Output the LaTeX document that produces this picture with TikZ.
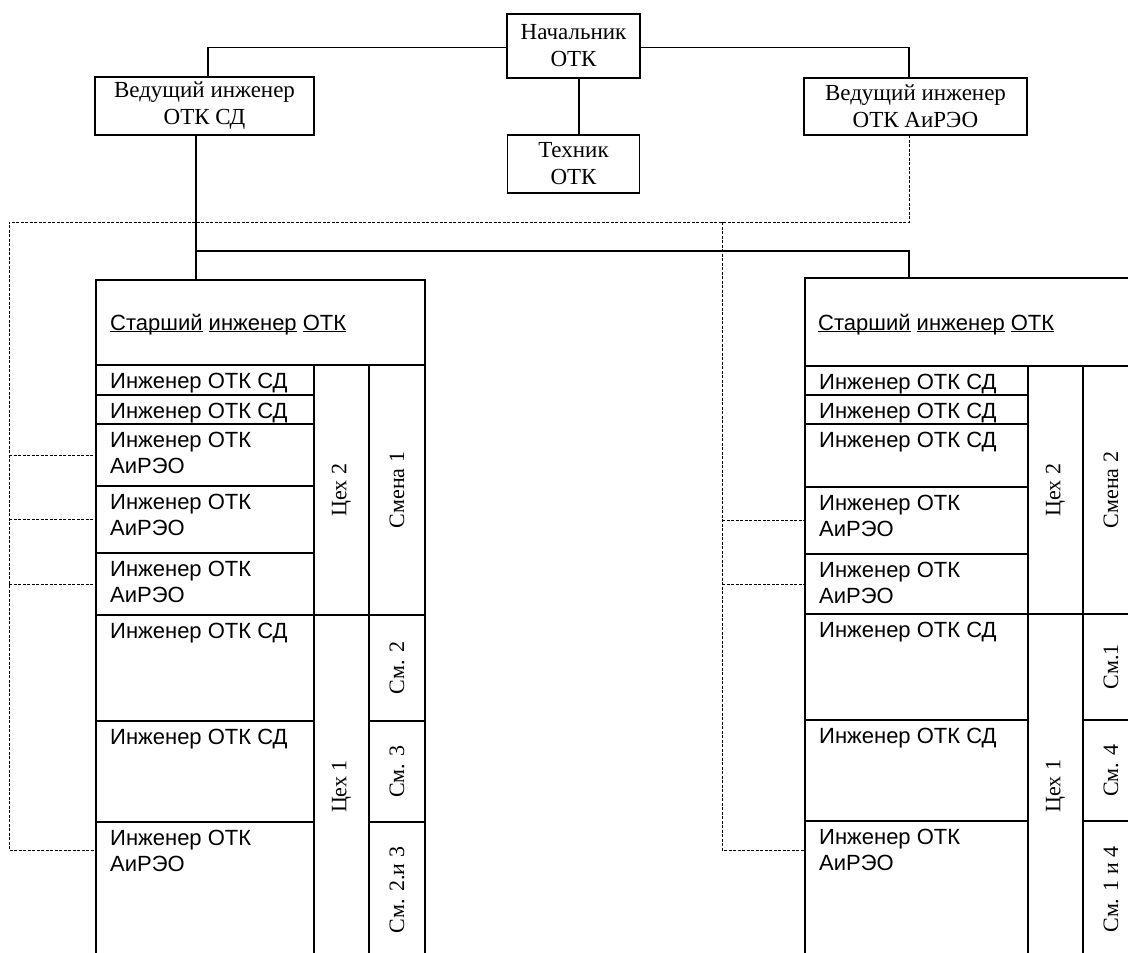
\documentclass[tikz,border=0pt]{standalone}
\usepackage{fontspec}
\setmainfont{Liberation Serif}
\newfontfamily\cellfont{Liberation Sans}
\newcommand\ulw[1]{\underline{\smash{#1}}}
\tikzset{
  topbox/.style={draw, line width=1.4pt, inner sep=0pt, outer sep=0pt, align=center,
    font=\fontsize{23}{27}\selectfont},
  cellframe/.style={draw, line width=1.3pt, inner sep=0pt, outer sep=0pt},
  ctext/.style={anchor=base west, inner sep=0pt, align=left,
    font=\cellfont\fontsize{22}{26}\selectfont},
  vtext/.style={rotate=90, inner sep=0pt, font=\fontsize{22}{26}\selectfont},
  conn/.style={line width=1.2pt},
  dl/.style={line width=1pt, dash pattern=on 3pt off 1.5pt},
}
\newcommand\cellbox[5]{\node[cellframe, minimum width={(#4-#2)*1pt}, minimum height={(#5-#3)*1pt}] (#1) at ({(#2+#4)/2},{(#3+#5)/2}) {};}
% one-line cell text: baseline 23pt below the cell top
\newcommand\celltext[2]{\node[ctext] (#1t) at ([xshift=14pt,yshift=-23pt]#1.north west) {#2};}
% two-line cell text: the base anchor is the last line, 26pt below the first
\newcommand\celltexttwo[3]{\node[ctext] (#1t) at ([xshift=14pt,yshift=-49pt]#1.north west) {#2\\#3};}
\newcommand\vlabel[2]{\node[vtext] (#1t) at (#1) {#2};}
\begin{document}
\begin{tikzpicture}[x=1pt,y=-1pt]
\useasboundingbox (0,0) rectangle (1128,953);
\clip (0,0) rectangle (1128,953);
\fill[white] (0,0) rectangle (1128,953);

% top boxes
\node[topbox, minimum width=133pt, minimum height=64pt] (nach) at (573.5,46) {Начальник\\ОТК};
\node[topbox, minimum width=132pt, minimum height=58pt] (tech) at (573.5,164) {Техник\\ОТК};
\node[topbox, minimum width=219pt, minimum height=58pt] (vsd) at (204.5,106) {Ведущий инженер\\ОТК СД};
\node[topbox, minimum width=223pt, minimum height=57pt] (vair) at (915.5,106.5) {Ведущий инженер\\ОТК АиРЭО};

% left block
\cellbox{LH}{96}{280}{425}{365}
\cellbox{L1}{96}{365}{314}{395}
\cellbox{L2}{96}{395}{314}{424}
\cellbox{L3}{96}{424}{314}{486}
\cellbox{L4}{96}{486}{314}{553}
\cellbox{L5}{96}{553}{314}{615}
\cellbox{L6}{96}{615}{314}{721}
\cellbox{L7}{96}{721}{314}{822}
\cellbox{L8}{96}{822}{314}{958}
\cellbox{LC2}{314}{365}{369}{615}
\cellbox{LC1}{314}{615}{369}{958}
\cellbox{LS1}{369}{365}{425}{615}
\cellbox{LS2}{369}{615}{425}{721}
\cellbox{LS3}{369}{721}{425}{822}
\cellbox{LS4}{369}{822}{425}{958}

\node[ctext] (LHt) at (110,330) {\ulw{Старший} \ulw{инженер} \ulw{ОТК}};
\celltext{L1}{Инженер ОТК СД}
\celltext{L2}{Инженер ОТК СД}
\celltexttwo{L3}{Инженер ОТК}{АиРЭО}
\celltexttwo{L4}{Инженер ОТК}{АиРЭО}
\celltexttwo{L5}{Инженер ОТК}{АиРЭО}
\celltext{L6}{Инженер ОТК СД}
\celltext{L7}{Инженер ОТК СД}
\celltexttwo{L8}{Инженер ОТК}{АиРЭО}
\vlabel{LC2}{Цех 2}
\vlabel{LC1}{Цех 1}
\vlabel{LS1}{Смена 1}
\vlabel{LS2}{См. 2}
\vlabel{LS3}{См. 3}
\vlabel{LS4}{См. 2.и 3}

% right block
\cellbox{RH}{805}{278}{1139}{366}
\cellbox{R1}{805}{366}{1028}{395}
\cellbox{R2}{805}{395}{1028}{424}
\cellbox{R3}{805}{424}{1028}{487}
\cellbox{R4}{805}{487}{1028}{554}
\cellbox{R5}{805}{554}{1028}{614}
\cellbox{R6}{805}{614}{1028}{720}
\cellbox{R7}{805}{720}{1028}{821}
\cellbox{R8}{805}{821}{1028}{958}
\cellbox{RC2}{1028}{366}{1083}{614}
\cellbox{RC1}{1028}{614}{1083}{958}
\cellbox{RS1}{1083}{366}{1139}{614}
\cellbox{RS2}{1083}{614}{1139}{720}
\cellbox{RS3}{1083}{720}{1139}{821}
\cellbox{RS4}{1083}{821}{1139}{958}

\node[ctext] (RHt) at (818,330) {\ulw{Старший} \ulw{инженер} \ulw{ОТК}};
\celltext{R1}{Инженер ОТК СД}
\celltext{R2}{Инженер ОТК СД}
\celltext{R3}{Инженер ОТК СД}
\celltexttwo{R4}{Инженер ОТК}{АиРЭО}
\celltexttwo{R5}{Инженер ОТК}{АиРЭО}
\celltext{R6}{Инженер ОТК СД}
\celltext{R7}{Инженер ОТК СД}
\celltexttwo{R8}{Инженер ОТК}{АиРЭО}
\vlabel{RC2}{Цех 2}
\vlabel{RC1}{Цех 1}
\vlabel{RS1}{Смена 2}
\vlabel{RS2}{См.1}
\vlabel{RS3}{См. 4}
\vlabel{RS4}{См. 1 и 4}

% solid connectors
\draw[conn] ([yshift=-1.5pt]nach.west) -| ([xshift=3.5pt]vsd.north);
\draw[conn] ([yshift=-1.5pt]nach.east) -| ([xshift=-6.5pt]vair.north);
\draw[conn] ([xshift=5.5pt]nach.south) -- ([xshift=5.5pt]tech.north);
\coordinate (sL) at (196,251);
\coordinate (sR) at (909,251);
\draw[conn] (vsd.south -| sL) -- (LH.north -| sL);
\draw[conn] (sL) -- (sR) -- (sR |- RH.north);

% dashed connectors
\coordinate (dL) at (9,222);
\coordinate (dR) at (722,222);
\draw[dl] ([xshift=-6.5pt]vair.south) |- (dL) |- ([yshift=-28pt]L8.north west);
\draw[dl] (L3.west -| dL) -- (L3.west);
\draw[dl] (L4.west -| dL) -- (L4.west);
\draw[dl] (L5.west -| dL) -- (L5.west);
\draw[dl] (dR) |- ([yshift=-29pt]R8.north west);
\draw[dl] (R4.west -| dR) -- (R4.west);
\draw[dl] (R5.west -| dR) -- (R5.west);
\end{tikzpicture}
\end{document}
